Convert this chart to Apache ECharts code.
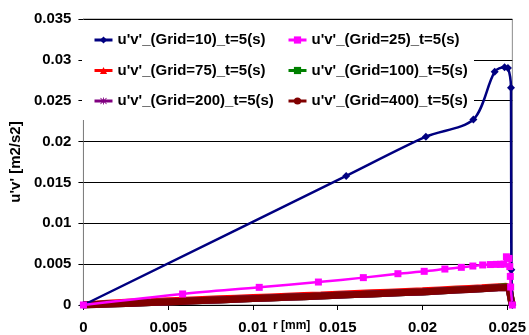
<!DOCTYPE html>
<html>
<head>
<meta charset="utf-8">
<script src="https://cdn.jsdelivr.net/npm/echarts@6/dist/echarts.min.js"></script>
<style>
  html, body { margin: 0; padding: 0; background: #fff; }
  #chart { width: 529px; height: 335px; }
</style>
</head>
<body>
<div id="chart"></div>
<script>
// Radial profiles of the shear stress u'v' at t = 5 s for several grid sizes
const yTicks = [0, 0.005, 0.01, 0.015, 0.02, 0.025, 0.03, 0.035];
const xTicks = [0, 0.005, 0.01, 0.015, 0.02, 0.025];

const seriesNames = [
  "u'v'_(Grid=10)_t=5(s)",
  "u'v'_(Grid=25)_t=5(s)",
  "u'v'_(Grid=75)_t=5(s)",
  "u'v'_(Grid=100)_t=5(s)",
  "u'v'_(Grid=200)_t=5(s)",
  "u'v'_(Grid=400)_t=5(s)"
];

// Grid = 10
const r10 = [0, 0.0155, 0.0202, 0.0230, 0.02426, 0.02484, 0.02504, 0.02522, 0.02524, 0.0253];
const uv10 = [0, 0.0158, 0.0206, 0.0227, 0.02855, 0.0291, 0.0290, 0.0266, 0.0043, 0];

// Grid = 25
const r25 = [0, 0.00585, 0.01037, 0.01386, 0.01651, 0.01855, 0.0201, 0.02132, 0.02229, 0.02297,
  0.02355, 0.0240, 0.02435, 0.0246, 0.0248, 0.02495, 0.0251, 0.02515, 0.02518, 0.0252, 0.0253];
const uv25 = [0, 0.00135, 0.00216, 0.00281, 0.00335, 0.00383, 0.00412, 0.0044, 0.00461, 0.00477,
  0.0049, 0.00495, 0.00497, 0.00498, 0.0050, 0.0059, 0.0057, 0.0047, 0.0035, 0.0022, 0];

// Finer grids share the same sampling radii
const rFine = [0, 0.002, 0.004, 0.006, 0.008, 0.010, 0.012, 0.014, 0.016, 0.018, 0.020,
  0.022, 0.0235, 0.0245, 0.0249, 0.0251, 0.02515, 0.0252, 0.02525, 0.0253];
const uv75 = [0, 0.00028, 0.00043, 0.00059, 0.00075, 0.00091, 0.00107, 0.00123, 0.0014, 0.00157,
  0.00173, 0.00195, 0.00211, 0.00223, 0.00228, 0.0020, 0.0016, 0.0010, 0.0005, 0];
const uv100 = [0, 0.00015, 0.0003, 0.00046, 0.00062, 0.00078, 0.00094, 0.0011, 0.00127, 0.00144,
  0.0016, 0.00183, 0.002, 0.00216, 0.00224, 0.002, 0.0016, 0.0010, 0.0004, 0];
const uv200 = [0, 0.00015, 0.0003, 0.00046, 0.00062, 0.00078, 0.00094, 0.0011, 0.00127, 0.00144,
  0.0016, 0.00182, 0.00198, 0.0021, 0.00215, 0.0019, 0.0015, 0.0009, 0.0004, 0];
const uv400 = [0, 0.00015, 0.0003, 0.00046, 0.00062, 0.00078, 0.00094, 0.0011, 0.00127, 0.00144,
  0.0016, 0.00182, 0.00198, 0.0021, 0.00215, 0.0019, 0.0015, 0.0009, 0.0004, 0];

const FONT = "'Liberation Sans', Arial, sans-serif";
const pairs = (xs, ys) => xs.map((x, i) => [x, ys[i]]);
const asterisk = 'path://M4.4,0h1.2v10h-1.2z M0,4.4h10v1.2h-10z M1.2,0.4l8.4,8.4l-0.8,0.8l-8.4,-8.4z M0.4,8.8l8.4,-8.4l0.8,0.8l-8.4,8.4z';

const chart = echarts.init(document.getElementById('chart'), null, { renderer: 'canvas' });

const legendCommon = {
  orient: 'vertical',
  itemWidth: 18,
  itemHeight: 9,
  itemGap: 15.5,
  itemTextGap: 4,
  lineStyle: { width: 3 },
  textStyle: { fontFamily: FONT, fontWeight: 'bold', fontSize: 15, color: '#000' },
  padding: 0
};

chart.setOption({
  animation: false,
  backgroundColor: '#fff',
  grid: {
    left: 81, right: 13, top: 19, bottom: 30,
    show: true, borderColor: '#8c8c8c', borderWidth: 1, backgroundColor: 'transparent'
  },
  legend: [
    Object.assign({}, legendCommon, { left: 93, top: 32.5, data: [seriesNames[0], seriesNames[2], seriesNames[4]] }),
    Object.assign({}, legendCommon, { left: 287, top: 32.5, data: [seriesNames[1], seriesNames[3], seriesNames[5]] })
  ],
  graphic: [{
    type: 'rect', z: 1, silent: true,
    shape: { x: 82, y: 20, width: 392, height: 100 },
    style: { fill: '#fff' }
  }, {
    type: 'text', left: 273, top: 320, silent: true,
    style: { text: 'r [mm]', fontFamily: FONT, fontWeight: 'bold', fontSize: 12, fill: '#000' }
  }],
  xAxis: {
    type: 'value',
    min: xTicks[0], max: 0.0253, interval: xTicks[1] - xTicks[0],
    axisLine: { onZero: false, lineStyle: { color: '#000', width: 1 } },
    axisTick: { show: true, length: 5, lineStyle: { color: '#000' } },
    splitLine: { show: false },
    axisLabel: {
      showMaxLabel: false, margin: 15,
      fontFamily: FONT, fontWeight: 'bold', fontSize: 15, color: '#000',
      formatter: v => String(+v.toFixed(3))
    }
  },
  yAxis: {
    type: 'value',
    min: yTicks[0], max: yTicks[yTicks.length - 1], interval: yTicks[1] - yTicks[0],
    name: "u'v' [m2/s2]",
    nameLocation: 'middle', nameGap: 58,
    nameTextStyle: { fontFamily: FONT, fontWeight: 'bold', fontSize: 15, color: '#000' },
    axisLine: { show: true, lineStyle: { color: '#7f7f7f', width: 1 } },
    axisTick: { show: true, length: 5, lineStyle: { color: '#000' } },
    splitLine: { show: true, lineStyle: { color: '#000', width: 1 } },
    axisLabel: {
      margin: 12,
      fontFamily: FONT, fontWeight: 'bold', fontSize: 15, color: '#000',
      formatter: v => String(+v.toFixed(3))
    }
  },
  series: [
    {
      name: seriesNames[0], type: 'line', data: pairs(r10, uv10),
      smooth: 0.3, symbol: 'diamond', symbolSize: 8,
      lineStyle: { color: '#000080', width: 2.5 }, itemStyle: { color: '#000080' }, z: 3
    },
    {
      name: seriesNames[1], type: 'line', data: pairs(r25, uv25),
      smooth: 0.3, symbol: 'rect', symbolSize: 7,
      lineStyle: { color: '#ff00ff', width: 2.5 }, itemStyle: { color: '#ff00ff' }, z: 3
    },
    {
      name: seriesNames[2], type: 'line', data: pairs(rFine, uv75),
      smooth: 0.3, symbol: 'triangle', symbolSize: 8, showSymbol: false,
      lineStyle: { color: '#ff0000', width: 7 }, itemStyle: { color: '#ff0000' }, z: 2
    },
    {
      name: seriesNames[3], type: 'line', data: pairs(rFine, uv100),
      smooth: 0.3, symbol: 'rect', symbolSize: 7, showSymbol: false,
      lineStyle: { color: '#008000', width: 7 }, itemStyle: { color: '#008000' }, z: 2
    },
    {
      name: seriesNames[4], type: 'line', data: pairs(rFine, uv200),
      smooth: 0.3, symbol: asterisk, symbolSize: 9, showSymbol: false,
      lineStyle: { color: '#800080', width: 7 }, itemStyle: { color: '#800080' }, z: 2
    },
    {
      name: seriesNames[5], type: 'line', data: pairs(rFine, uv400),
      smooth: 0.3, symbol: 'circle', symbolSize: 7, showSymbol: false,
      lineStyle: { color: '#800000', width: 7 }, itemStyle: { color: '#800000' }, z: 2
    }
  ]
});
</script>
</body>
</html>
